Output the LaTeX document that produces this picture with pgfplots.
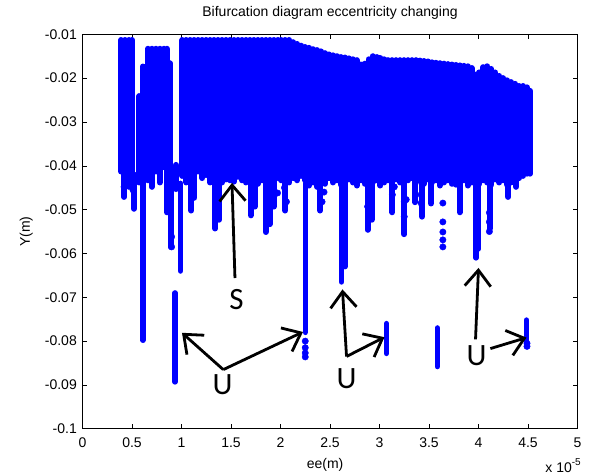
\documentclass[border=0pt]{standalone}
\usepackage{pgfplots}
\pgfplotsset{compat=1.18}
\usepackage{fontspec}
\setmainfont{Liberation Sans}
\newfontfamily\calib{Carlito}
\usetikzlibrary{arrows.meta,calc}
\begin{document}
\begin{tikzpicture}[font=\fontsize{14}{17}\selectfont]
\begin{axis}[name=ax, scale only axis, width=495pt, height=394.5pt,
  xmin=0, xmax=5, ymin=-0.1, ymax=-0.01,
  xtick={0,0.5,1,1.5,2,2.5,3,3.5,4,4.5,5},
  xticklabels={0,0.5,1,1.5,2,2.5,3,3.5,4,4.5,5},
  ytick={-0.1,-0.09,-0.08,-0.07,-0.06,-0.05,-0.04,-0.03,-0.02,-0.01},
  yticklabels={-0.1,-0.09,-0.08,-0.07,-0.06,-0.05,-0.04,-0.03,-0.02,-0.01},
  tick align=inside, xtick pos=both, ytick pos=both, major tick length=5pt,
  every tick/.style={black, line width=0.6pt},
  axis line style={black, line width=1pt},
  xticklabel style={anchor=base, yshift=-18.4pt},
  yticklabel style={anchor=east, inner sep=0pt, xshift=-5.5pt},
  title={Bifurcation diagram eccentricity changing},
  title style={at={(0.5,1)}, anchor=base, yshift=12pt},
  xlabel={ee(m)},
  xlabel style={at={(axis description cs:0.49,0)}, anchor=base, yshift=-39.7pt},
  ylabel={Y(m)},
  ylabel style={at={([xshift=-52.5pt]axis description cs:0,0.5)}, anchor=base},
  unbounded coords=jump]
% main body: vertical runs of points (x, top, bottom)
\addplot[blue, line width=6pt, line cap=round, mark=none] coordinates {
(0.39,-0.0113) (0.39,-0.0413) (0.39,nan)
(0.43,-0.0113) (0.43,-0.0423) (0.43,nan)
(0.47,-0.0113) (0.47,-0.0408) (0.47,nan)
(0.50,-0.0113) (0.50,-0.0428) (0.50,nan)
(0.575,-0.0241) (0.575,-0.0438) (0.575,nan)
(0.66,-0.0133) (0.66,-0.0433) (0.66,nan)
(0.70,-0.0133) (0.70,-0.0448) (0.70,nan)
(0.74,-0.0133) (0.74,-0.0413) (0.74,nan)
(0.78,-0.0133) (0.78,-0.0438) (0.78,nan)
(0.82,-0.0133) (0.82,-0.0403) (0.82,nan)
(0.85,-0.0133) (0.85,-0.0423) (0.85,nan)
(0.88,-0.0166) (0.88,-0.0433) (0.88,nan)
(0.945,-0.0398) (0.945,-0.0453) (0.945,nan)
(1.01,-0.0113) (1.01,-0.0423) (1.01,nan)
(1.05,-0.0113) (1.05,-0.0438) (1.05,nan)
(1.09,-0.0113) (1.09,-0.0418) (1.09,nan)
(1.13,-0.0113) (1.13,-0.0433) (1.13,nan)
(1.17,-0.0113) (1.17,-0.0413) (1.17,nan)
(1.21,-0.0113) (1.21,-0.0428) (1.21,nan)
(1.25,-0.0113) (1.25,-0.0421) (1.25,nan)
(1.29,-0.0113) (1.29,-0.0438) (1.29,nan)
(1.33,-0.0113) (1.33,-0.0423) (1.33,nan)
(1.37,-0.0113) (1.37,-0.0433) (1.37,nan)
(1.41,-0.0113) (1.41,-0.0438) (1.41,nan)
(1.45,-0.0113) (1.45,-0.0431) (1.45,nan)
(1.49,-0.0113) (1.49,-0.0433) (1.49,nan)
(1.53,-0.0113) (1.53,-0.0436) (1.53,nan)
(1.57,-0.0113) (1.57,-0.0425) (1.57,nan)
(1.61,-0.0113) (1.61,-0.0433) (1.61,nan)
(1.65,-0.0113) (1.65,-0.0438) (1.65,nan)
(1.69,-0.0113) (1.69,-0.0423) (1.69,nan)
(1.73,-0.0113) (1.73,-0.0433) (1.73,nan)
(1.77,-0.0113) (1.77,-0.0441) (1.77,nan)
(1.81,-0.0113) (1.81,-0.0433) (1.81,nan)
(1.85,-0.0113) (1.85,-0.0443) (1.85,nan)
(1.89,-0.0113) (1.89,-0.0430) (1.89,nan)
(1.93,-0.0113) (1.93,-0.0438) (1.93,nan)
(1.97,-0.0113) (1.97,-0.0425) (1.97,nan)
(2.01,-0.0113) (2.01,-0.0433) (2.01,nan)
(2.05,-0.0113) (2.05,-0.0421) (2.05,nan)
(2.09,-0.0113) (2.09,-0.0438) (2.09,nan)
(2.13,-0.0118) (2.13,-0.0428) (2.13,nan)
(2.17,-0.0122) (2.17,-0.0433) (2.17,nan)
(2.21,-0.0126) (2.21,-0.0423) (2.21,nan)
(2.25,-0.0129) (2.25,-0.0433) (2.25,nan)
(2.29,-0.0131) (2.29,-0.0445) (2.29,nan)
(2.33,-0.0134) (2.33,-0.0438) (2.33,nan)
(2.37,-0.0136) (2.37,-0.0448) (2.37,nan)
(2.41,-0.0139) (2.41,-0.0433) (2.41,nan)
(2.45,-0.0143) (2.45,-0.0441) (2.45,nan)
(2.49,-0.0146) (2.49,-0.0428) (2.49,nan)
(2.53,-0.0148) (2.53,-0.0438) (2.53,nan)
(2.57,-0.0150) (2.57,-0.0433) (2.57,nan)
(2.61,-0.0152) (2.61,-0.0443) (2.61,nan)
(2.65,-0.0153) (2.65,-0.0441) (2.65,nan)
(2.69,-0.0155) (2.69,-0.0431) (2.69,nan)
(2.73,-0.0157) (2.73,-0.0438) (2.73,nan)
(2.77,-0.0159) (2.77,-0.0445) (2.77,nan)
(2.81,-0.0169) (2.81,-0.0433) (2.81,nan)
(2.85,-0.0167) (2.85,-0.0441) (2.85,nan)
(2.89,-0.0157) (2.89,-0.0448) (2.89,nan)
(2.93,-0.0150) (2.93,-0.0438) (2.93,nan)
(2.97,-0.0152) (2.97,-0.0433) (2.97,nan)
(3.01,-0.0154) (3.01,-0.0445) (3.01,nan)
(3.05,-0.0157) (3.05,-0.0438) (3.05,nan)
(3.09,-0.0159) (3.09,-0.0433) (3.09,nan)
(3.13,-0.0159) (3.13,-0.0443) (3.13,nan)
(3.17,-0.0159) (3.17,-0.0431) (3.17,nan)
(3.21,-0.0159) (3.21,-0.0438) (3.21,nan)
(3.25,-0.0159) (3.25,-0.0443) (3.25,nan)
(3.29,-0.0159) (3.29,-0.0433) (3.29,nan)
(3.33,-0.0159) (3.33,-0.0428) (3.33,nan)
(3.37,-0.0159) (3.37,-0.0438) (3.37,nan)
(3.41,-0.0160) (3.41,-0.0433) (3.41,nan)
(3.45,-0.0161) (3.45,-0.0441) (3.45,nan)
(3.49,-0.0162) (3.49,-0.0431) (3.49,nan)
(3.53,-0.0164) (3.53,-0.0438) (3.53,nan)
(3.57,-0.0165) (3.57,-0.0433) (3.57,nan)
(3.61,-0.0166) (3.61,-0.0445) (3.61,nan)
(3.65,-0.0167) (3.65,-0.0438) (3.65,nan)
(3.69,-0.0168) (3.69,-0.0433) (3.69,nan)
(3.73,-0.0169) (3.73,-0.0441) (3.73,nan)
(3.77,-0.0170) (3.77,-0.0443) (3.77,nan)
(3.81,-0.0171) (3.81,-0.0438) (3.81,nan)
(3.85,-0.0172) (3.85,-0.0433) (3.85,nan)
(3.89,-0.0173) (3.89,-0.0445) (3.89,nan)
(3.93,-0.0177) (3.93,-0.0438) (3.93,nan)
(3.97,-0.0192) (3.97,-0.0448) (3.97,nan)
(4.01,-0.0187) (4.01,-0.0441) (4.01,nan)
(4.05,-0.0175) (4.05,-0.0433) (4.05,nan)
(4.09,-0.0173) (4.09,-0.0438) (4.09,nan)
(4.13,-0.0179) (4.13,-0.0443) (4.13,nan)
(4.17,-0.0187) (4.17,-0.0431) (4.17,nan)
(4.21,-0.0195) (4.21,-0.0438) (4.21,nan)
(4.25,-0.0200) (4.25,-0.0433) (4.25,nan)
(4.29,-0.0205) (4.29,-0.0443) (4.29,nan)
(4.33,-0.0209) (4.33,-0.0438) (4.33,nan)
(4.37,-0.0213) (4.37,-0.0433) (4.37,nan)
(4.41,-0.0218) (4.41,-0.0428) (4.41,nan)
(4.45,-0.0218) (4.45,-0.0423) (4.45,nan)
(4.49,-0.0221) (4.49,-0.0418) (4.49,nan)
(4.52,-0.0229) (4.52,-0.0418)
};
% drips below the body
\addplot[blue, line width=6pt, line cap=round, mark=none] coordinates {
(0.42,-0.0420) (0.42,-0.0471) (0.42,nan)
(0.47,-0.0420) (0.47,-0.0448) (0.47,nan)
(0.52,-0.0420) (0.52,-0.0498) (0.52,nan)
(0.85,-0.0420) (0.85,-0.0506) (0.85,nan)
(0.89,-0.0430) (0.89,-0.0585) (0.89,nan)
(1.10,-0.0420) (1.10,-0.0502) (1.10,nan)
(1.13,-0.0420) (1.13,-0.0473) (1.13,nan)
(1.34,-0.0420) (1.34,-0.0543) (1.34,nan)
(1.38,-0.0420) (1.38,-0.0523) (1.38,nan)
(1.70,-0.0420) (1.70,-0.0513) (1.70,nan)
(1.74,-0.0420) (1.74,-0.0493) (1.74,nan)
(1.85,-0.0420) (1.85,-0.0551) (1.85,nan)
(1.89,-0.0420) (1.89,-0.0533) (1.89,nan)
(1.93,-0.0420) (1.93,-0.0493) (1.93,nan)
(2.05,-0.0420) (2.05,-0.0502) (2.05,nan)
(2.40,-0.0420) (2.40,-0.0502) (2.40,nan)
(2.88,-0.0420) (2.88,-0.0546) (2.88,nan)
(2.92,-0.0420) (2.92,-0.0523) (2.92,nan)
(3.13,-0.0420) (3.13,-0.0506) (3.13,nan)
(3.25,-0.0420) (3.25,-0.0556) (3.25,nan)
(3.36,-0.0420) (3.36,-0.0483) (3.36,nan)
(3.43,-0.0420) (3.43,-0.0516) (3.43,nan)
(3.52,-0.0420) (3.52,-0.0486) (3.52,nan)
(3.81,-0.0420) (3.81,-0.0506) (3.81,nan)
(4.115,-0.0420) (4.115,-0.0543) (4.115,nan)
(4.30,-0.0420) (4.30,-0.0471) (4.30,nan)
(4.38,-0.0420) (4.38,-0.0448)
};
% long vertical branches
\addplot[blue, line width=5.5pt, line cap=round, mark=none] coordinates {
(0.61,-0.0173) (0.61,-0.0798) (0.61,nan)
(0.935,-0.0690) (0.935,-0.0893) (0.935,nan)
(0.99,-0.0440) (0.99,-0.0640) (0.99,nan)
(2.25,-0.0440) (2.25,-0.0780) (2.25,nan)
(2.615,-0.0440) (2.615,-0.0665) (2.615,nan)
(2.65,-0.0440) (2.65,-0.0630) (2.65,nan)
(3.07,-0.0760) (3.07,-0.0828) (3.07,nan)
(3.585,-0.0770) (3.585,-0.0858) (3.585,nan)
(3.975,-0.0440) (3.975,-0.0610) (3.975,nan)
(3.995,-0.0440) (3.995,-0.0590) (3.995,nan)
(4.485,-0.0752) (4.485,-0.0812)
};
% isolated points
\addplot[blue, only marks, mark=*, mark size=3.2pt] coordinates {
(0.42,-0.0448) (0.51,-0.0455) (0.90,-0.0562) (0.90,-0.0585)
(1.76,-0.0439) (1.71,-0.0462) (1.72,-0.0485)
(1.74,-0.0439) (1.97,-0.0427) (2.04,-0.0450) (1.97,-0.0462) (2.06,-0.0482)
(2.44,-0.0460) (2.42,-0.0482) (2.88,-0.0493) (3.15,-0.0448) (3.13,-0.0466) (3.27,-0.0477)
(3.25,-0.0482) (3.25,-0.0516) (3.42,-0.0466) (3.42,-0.0485)
(3.64,-0.0485) (3.64,-0.0528) (3.64,-0.0551) (3.64,-0.0569) (3.64,-0.0585)
(4.11,-0.0507) (4.11,-0.0528) (4.11,-0.0550)
(2.25,-0.0800) (2.25,-0.0815) (2.25,-0.0827) (2.25,-0.0836)
(4.49,-0.0805) (4.49,-0.0812)
};
% annotations
\begin{scope}[line width=2.8pt, -{Straight Barb[length=16pt,width=26pt]}]
\draw (axis cs:1.540,-0.0656) -- (axis cs:1.510,-0.0439);
\draw (axis cs:1.422,-0.0865) -- (axis cs:1.005,-0.0781);
\draw (axis cs:1.422,-0.0865) -- (axis cs:2.227,-0.0779);
\draw (axis cs:2.667,-0.0835) -- (axis cs:2.626,-0.0682);
\draw (axis cs:2.667,-0.0835) -- (axis cs:3.050,-0.0791);
\draw (axis cs:3.970,-0.0796) -- (axis cs:4.000,-0.0633);
\draw (axis cs:4.120,-0.0817) -- (axis cs:4.485,-0.0792);
\end{scope}
\node[font=\calib\fontsize{31}{36}\selectfont] at (axis cs:1.556,-0.0704) {S};
\node[font=\calib\fontsize{31}{36}\selectfont] at (axis cs:1.414,-0.0899) {U};
\node[font=\calib\fontsize{31}{36}\selectfont] at (axis cs:2.667,-0.0885) {U};
\node[font=\calib\fontsize{31}{36}\selectfont] at (axis cs:3.980,-0.0833) {U};
\end{axis}
\node[anchor=base east, inner sep=0pt] at ([shift={(3.5pt,-43.5pt)}]ax.south east) {x 10\raisebox{7pt}{\fontsize{10}{12}\selectfont -5}};
\path[use as bounding box] ($(ax.south west)+(-82.5pt,-47.2pt)$) rectangle ++(591pt,476pt);
\end{tikzpicture}
\end{document}
